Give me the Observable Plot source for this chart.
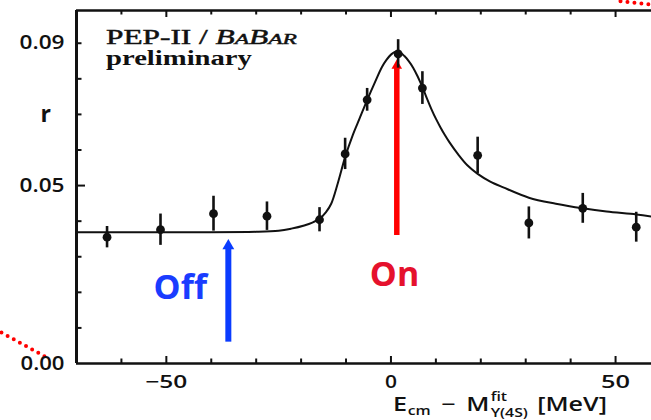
<!DOCTYPE html>
<html>
<head>
<meta charset="utf-8">
<script src="https://cdn.jsdelivr.net/npm/d3@7"></script>
<script src="https://cdn.jsdelivr.net/npm/@observablehq/plot@0.6"></script>
<style>
  html, body { margin: 0; padding: 0; background: #ffffff; }
  #chart svg { display: block; }
</style>
</head>
<body>
<div id="chart"></div>
<script>
// ---------- data ----------
const xDomain = [-70, 58];
const yDomain = [0, 0.0992];

const xMinorTicks = [-60, -40, -30, -20, -10, 10, 20, 30, 40];
const xMajorTicks = [-50, 0, 50];
const yMinorTicks = [0.01, 0.02, 0.03, 0.04, 0.06, 0.07, 0.08, 0.09];
const yMajorTicks = [0.05];
const xTickLabels = [-50, 0, 50];
const yTickLabels = [0, 0.05, 0.09];

// measured points: Ecm - M (MeV), r, error
const pointX   = [-63.2, -51.3, -39.5, -27.6, -15.9, -10.2, -5.3, 1.6, 7.0, 19.3, 30.7, 42.7, 54.6];
const pointY   = [0.0355, 0.0376, 0.0421, 0.0414, 0.0404, 0.0589, 0.0741, 0.0870, 0.0774, 0.0585, 0.0395, 0.0436, 0.0383];
const pointErr = [0.0030, 0.0044, 0.0049, 0.0040, 0.0034, 0.0044, 0.0032, 0.0040, 0.0046, 0.0051, 0.0045, 0.0042, 0.0042];

// fitted curve, read at points along it
const curveX = [-70, -45, -30, -25, -22.2, -19.3, -17.5, -15.9, -14.5, -13.3, -11.8, -10.2, -8.5, -7, -5.3, -3.5, -2, -1, 0, 1, 2, 3, 4, 5, 6, 7, 8, 9, 10, 11, 12, 13, 15, 17, 19.3, 22, 25, 30.7, 36.7, 42.7, 48, 54.6, 58];
const curveY = [0.0369, 0.0369, 0.0370, 0.0373, 0.0379, 0.0388, 0.0396, 0.0407, 0.0425, 0.0449, 0.0508, 0.0580, 0.0642, 0.0688, 0.0740, 0.0792, 0.0833, 0.0853, 0.0868, 0.0876, 0.0874, 0.0864, 0.0849, 0.0830, 0.0805, 0.0777, 0.0745, 0.0715, 0.0688, 0.0664, 0.0642, 0.0622, 0.0587, 0.0557, 0.0533, 0.0512, 0.0495, 0.0466, 0.0449, 0.0436, 0.0427, 0.0419, 0.0413];

// annotation arrows
const arrowNames  = ["On", "Off"];
const arrowX      = [1.3, -36.2];
const arrowBase   = [0.036, 0.006];
const arrowTip    = [0.0854, 0.035];
const labelX      = [0.8, -46.9];
const labelY      = [0.0249, 0.0211];

// red dotted slide decorations (outside the frame)
const decorX1 = [-86.7, 51.1];
const decorY1 = [0.0087, 0.1018];
const decorX2 = [-76.2, 58.5];
const decorY2 = [0.0014, 0.1008];

// ---------- tables ----------
const points = pointX.map((x, i) => ({x, y: pointY[i], lo: pointY[i] - pointErr[i], hi: pointY[i] + pointErr[i]}));
const curve = curveX.map((x, i) => ({x, y: curveY[i]}));
const arrows = arrowNames.map((name, i) => ({name, x: arrowX[i], base: arrowBase[i], tip: arrowTip[i], lx: labelX[i], ly: labelY[i]}));
const decor = decorX1.map((x1, i) => ({x1, y1: decorY1[i], x2: decorX2[i], y2: decorY2[i]}));

const W = 651, H = 420, ML = 76, MR = 0, MT = 10, MB = 57;
const FW = W - ML - MR, FH = H - MT - MB;
const sans = "'Open Sans', 'Noto Sans', sans-serif";
const RED = "#ff0000", BLUE = "#0a3cff";
const RED_TXT = "#e5112d", BLUE_TXT = "#1a3cff";

const chart = Plot.plot({
  width: W, height: H,
  marginLeft: ML, marginRight: MR, marginTop: MT, marginBottom: MB,
  x: {domain: xDomain},
  y: {domain: yDomain},
  style: {background: "#ffffff", fontFamily: sans, overflow: "visible"},
  marks: [
    // slide decoration
    Plot.link(decor, {x1: "x1", y1: "y1", x2: "x2", y2: "y2", stroke: RED, strokeWidth: 4, strokeDasharray: "0 7", strokeLinecap: "round"}),
    // frame: left, top, bottom
    Plot.ruleX([xDomain[0]], {stroke: "#111", strokeWidth: 3}),
    Plot.ruleY([yDomain[0]], {stroke: "#111", strokeWidth: 2.7}),
    Plot.ruleY([yDomain[1]], {stroke: "#111", strokeWidth: 2.5}),
    // inward ticks
    Plot.ruleX(xMinorTicks, {stroke: "#111", strokeWidth: 2, insetTop: FH - 4.5}),
    Plot.ruleX(xMajorTicks, {stroke: "#111", strokeWidth: 2, insetTop: FH - 7}),
    Plot.ruleX(xMinorTicks, {stroke: "#111", strokeWidth: 2, insetBottom: FH - 4.5}),
    Plot.ruleX(xMajorTicks, {stroke: "#111", strokeWidth: 2, insetBottom: FH - 7}),
    Plot.ruleY(yMinorTicks, {stroke: "#111", strokeWidth: 2, insetRight: FW - 5.5}),
    Plot.ruleY(yMajorTicks, {stroke: "#111", strokeWidth: 2, insetRight: FW - 9}),
    // axes labels
    Plot.axisY({ticks: yTickLabels, tickSize: 0, tickPadding: 12, tickFormat: d3.format(".2f"), fontSize: 19, fontWeight: 600, fill: "#111", label: null}),
    Plot.axisX({ticks: xTickLabels, tickSize: 0, tickPadding: 12, fontSize: 18, fontWeight: 600, fill: "#111", label: null}),
    Plot.text([{t: "r", y: 0.07}], {text: "t", y: "y", frameAnchor: "left", dx: -36, fontSize: 23, fontWeight: 700, fill: "#111"}),
    // fit curve
    Plot.line(curve, {x: "x", y: "y", curve: "catmull-rom", stroke: "#111", strokeWidth: 2}),
    // arrows
    Plot.ruleX(arrows.filter(d => d.name === "On"), {x: "x", y1: "tip", y2: "base", stroke: RED, strokeWidth: 5.5, insetTop: 6}),
    Plot.dot(arrows.filter(d => d.name === "On"), {x: "x", y: "tip", symbol: "triangle", r: 3.9, fill: RED, dy: 6}),
    Plot.ruleX(arrows.filter(d => d.name === "Off"), {x: "x", y1: "tip", y2: "base", stroke: BLUE, strokeWidth: 6, insetTop: 7}),
    Plot.dot(arrows.filter(d => d.name === "Off"), {x: "x", y: "tip", symbol: "triangle", r: 4.4, fill: BLUE, dy: 6.8}),
    Plot.text(arrows, {x: "lx", y: "ly", text: "name", fontSize: 34, fontWeight: 700, fill: d => d.name === "On" ? RED_TXT : BLUE_TXT, fontFamily: sans}),
    // error bars and points
    Plot.ruleX(points, {x: "x", y1: "lo", y2: "hi", stroke: "#111", strokeWidth: 2.6}),
    Plot.dot(points, {x: "x", y: "y", r: 4.4, fill: "#111", stroke: null})
  ]
});

document.getElementById("chart").append(chart);
const svg = d3.select(chart);

// scanned figure is horizontally stretched: widen its texts
const yLabelWidths = {"0.00": 44, "0.05": 45, "0.09": 45};
svg.selectAll('g[aria-label="y-axis tick label"] text').each(function() {
  const w = yLabelWidths[this.textContent];
  if (w) { this.setAttribute("textLength", w); this.setAttribute("lengthAdjust", "spacingAndGlyphs"); }
});
const xLabelWidths = {"−50": 42, "0": 12, "50": 29};
svg.selectAll('g[aria-label="x-axis tick label"] text').each(function() {
  const w = xLabelWidths[this.textContent];
  if (w) { this.setAttribute("textLength", w); this.setAttribute("lengthAdjust", "spacingAndGlyphs"); }
});

function stretchGroup(g, x, baseline, targetWidth) {
  const bb = g.node().getBBox();
  const s = targetWidth / bb.width;
  g.attr("transform", `translate(${x - bb.x * s},${baseline}) scale(${s},1)`);
}

// PEP-II / BaBar
const serif = "'Liberation Serif', 'DejaVu Serif', serif";
const g1 = svg.append("g").attr("text-anchor", "start").style("text-anchor", "start");
const t1 = g1.append("text").attr("font-family", serif).attr("font-size", 20).attr("fill", "#111")
  .attr("stroke", "#111").attr("stroke-width", 0.45).style("text-anchor", "start");
t1.append("tspan").text("PEP-II / ");
const bb = t1.append("tspan").attr("font-style", "italic");
bb.append("tspan").text("B");
bb.append("tspan").attr("font-size", 15).text("A");
bb.append("tspan").text("B");
bb.append("tspan").attr("font-size", 15).text("AR");
stretchGroup(g1, 106, 44, 191);

const g2 = svg.append("g").attr("text-anchor", "start").style("text-anchor", "start");
g2.append("text").attr("font-family", serif).attr("font-size", 20).attr("font-weight", 700).attr("fill", "#111")
  .style("text-anchor", "start").text("preliminary");
stretchGroup(g2, 106, 65, 146);

// x axis label: E_cm − M^fit_Υ(4S) [MeV]  (one text element, tspans)
const g3 = svg.append("g").attr("text-anchor", "start").style("text-anchor", "start");
const tmp = g3.append("text").attr("font-family", sans).attr("font-weight", 600).style("text-anchor", "start");
function measure(str, size) { tmp.attr("font-size", size).text(str); return tmp.node().getComputedTextLength(); }
const big = 19, small = 12;
const parts = [];
let cx = 0;
parts.push({s: "E", x: cx, y: 0, size: big});     cx += measure("E", big) + 0.5;
parts.push({s: "cm", x: cx, y: 4, size: small});  cx += measure("cm", small) + 8;
parts.push({s: "−", x: cx, y: 0, size: big});     cx += measure("−", big) + 8;
parts.push({s: "M", x: cx, y: 0, size: big});     cx += measure("M", big) + 1;
const xs = cx;
parts.push({s: "fit", x: xs, y: -10.5, size: small});
parts.push({s: "Υ(4S)", x: xs, y: 6, size: small});
cx = xs + Math.max(measure("fit", small), measure("Υ(4S)", small)) + 7;
parts.push({s: "[MeV]", x: cx, y: 0, size: big});
const totalW = cx + measure("[MeV]", big);
tmp.remove();
const t3 = g3.append("text").attr("font-family", sans).attr("font-weight", 600).attr("fill", "#111").style("text-anchor", "start");
parts.forEach(p => t3.append("tspan").attr("x", p.x).attr("y", p.y).attr("font-size", p.size)
  .style("text-anchor", "start").text(p.s));
g3.attr("transform", `translate(393,411) scale(${214 / totalW},1)`);
</script>
</body>
</html>
